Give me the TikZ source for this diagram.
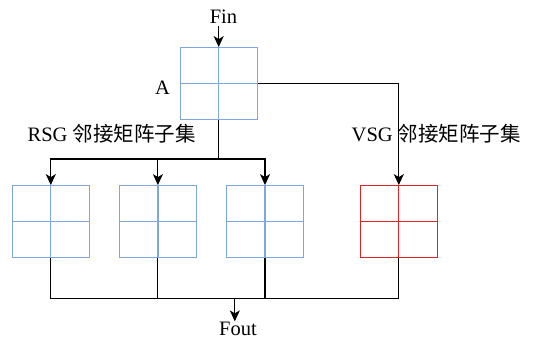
\documentclass[tikz,border=0pt]{standalone}
\usepackage{fontspec}
\setmainfont{Liberation Serif}
\newfontfamily\cjk{Noto Sans CJK SC}
\usepackage{xcolor}
\usetikzlibrary{arrows.meta,positioning}
\definecolor{cellblue}{HTML}{7EA6E0}
\definecolor{cellred}{HTML}{E02424}

\begin{document}
\begin{tikzpicture}[
				x=1pt, y=1pt,
				font=\fontsize{20.5}{24}\selectfont,
				>={Stealth[length=11pt,width=10pt,inset=3pt]},
				cell/.style={
					rectangle, draw=#1, line width=1.2pt,
					minimum width=77pt, minimum height=72pt, inner sep=0pt,
					path picture={
						\draw[#1, line width=1.2pt]
						(path picture bounding box.north) -- (path picture bounding box.south)
						(path picture bounding box.west) -- (path picture bounding box.east);
					}
				},
				cell/.default=cellblue,
				lbl/.style={inner sep=0pt},
				io/.style={inner sep=3pt, anchor=base},
				line/.style={line width=1.1pt, black},
				arr/.style={->, line width=1.1pt, black}
				]
				\useasboundingbox (0,0) rectangle (534,339);
				
				%% ─── INPUT MATRIX ─────────────────────────────────────────────
				\node[cell] (A) at (218.7,255.3) {};
				\node[lbl, left=9.5pt of A, yshift=-4pt] (alab) {A};
				\node[io] (fin) at (223.5,315.7) {Fin};
				\draw[arr] (fin.south -| A.north) -- (A.north);
				
				%% ─── SUBSETS ──────────────────────────────────────────────────
				\node[cell] (b1) at (50.8,117.3) {};
				\node[cell, right=28.9pt of b1] (b2) {};
				\node[cell, right=28.9pt of b2] (b3) {};
				\node[cell=cellred, right=55.6pt of b3] (r) {};
				
				\node[lbl] (rsg) at (111.6,205) {RSG {\cjk 邻接矩阵子集}};
				\node[lbl] (vsg) at (436.3,205) {VSG {\cjk 邻接矩阵子集}};
				
				\draw[line] (A.south) -- ++(0,-38.7) coordinate (fork);
				\draw[arr] (fork) -| (b1);
				\draw[arr] (fork) -| (b2);
				\draw[arr] (fork) -| (b3);
				\draw[arr] (A.east) -| (r);
				
				%% ─── OUTPUT ───────────────────────────────────────────────────
				\coordinate (join) at (234.8,40.7);
				\draw[line] (b1.south) |- (join);
				\draw[line] (b2.south) |- (join);
				\draw[line] (b3.south) |- (join);
				\draw[line] (r.south) |- (join);
				
				\node[io, inner sep=1pt] (fout) at (238,3) {Fout};
				\draw[arr] (join) -- (join |- fout.north);
				
\end{tikzpicture}
\end{document}
